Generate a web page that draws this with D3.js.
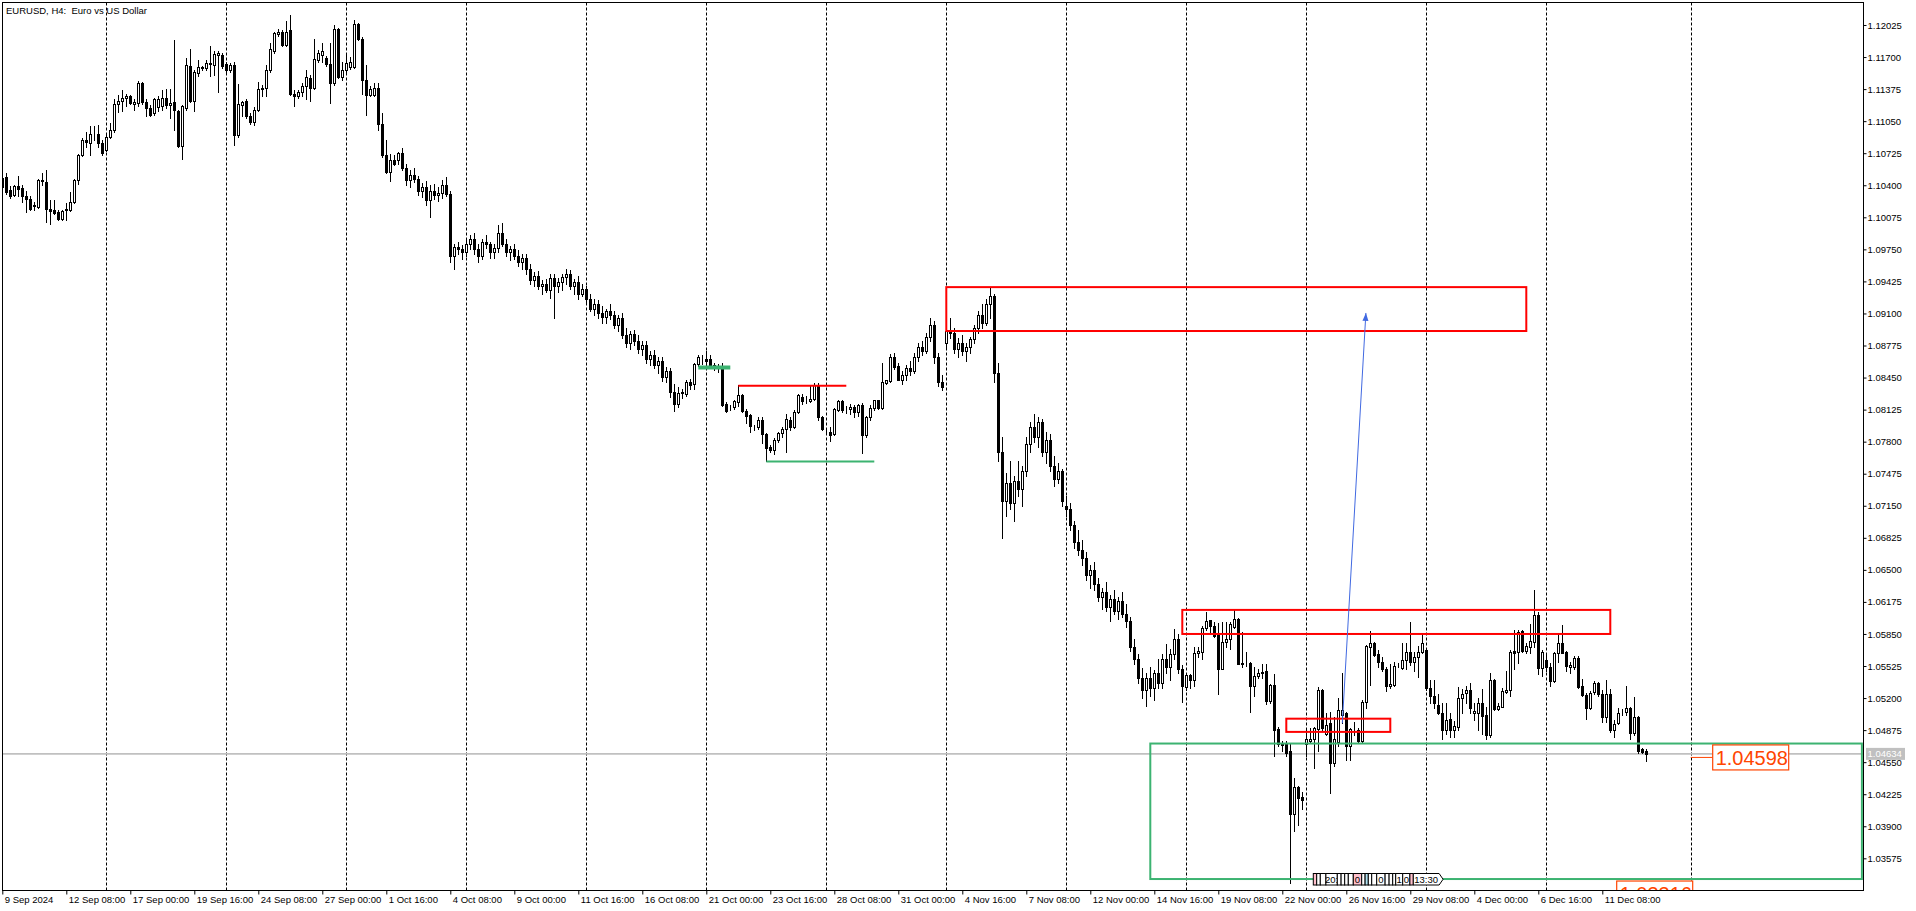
<!DOCTYPE html>
<html><head><meta charset="utf-8">
<script src="https://cdn.jsdelivr.net/npm/d3@7"></script>
<style>
html,body{margin:0;padding:0;background:#fff;overflow:hidden}
svg{display:block}
text{font-family:"Liberation Sans",Arial,sans-serif}
</style></head><body>
<svg id="c" width="1916" height="911"></svg>
<script>
const openP = [
1.1047,1.1048,1.1035,1.1030,1.1039,1.1037,1.1029,1.1026,1.1019,1.1018,
1.1045,1.1043,1.1016,1.1015,1.1013,1.1006,1.1015,1.1015,1.1023,1.1045,
1.1071,1.1086,1.1083,1.1092,1.1092,1.1083,1.1076,1.1089,1.1096,1.1122,
1.1125,1.1128,1.1130,1.1122,1.1123,1.1144,1.1124,1.1118,1.1113,1.1119,
1.1120,1.1128,1.1121,1.1124,1.1115,1.1080,1.1118,1.1161,1.1125,1.1154,
1.1159,1.1159,1.1163,1.1162,1.1172,1.1172,1.1163,1.1157,1.1162,1.1091,
1.1121,1.1125,1.1110,1.1104,1.1116,1.1138,1.1139,1.1157,1.1176,1.1193,
1.1195,1.1182,1.1197,1.1133,1.1130,1.1135,1.1141,1.1149,1.1139,1.1167,
1.1172,1.1169,1.1163,1.1144,1.1198,1.1150,1.1157,1.1160,1.1160,1.1204,
1.1188,1.1147,1.1132,1.1132,1.1139,1.1102,1.1071,1.1053,1.1066,1.1066,
1.1073,1.1058,1.1045,1.1050,1.1046,1.1034,1.1038,1.1025,1.1034,1.1030,
1.1032,1.1040,1.1031,1.0968,1.0977,1.0975,1.0972,1.0980,1.0986,1.0975,
1.0968,1.0982,1.0980,1.0972,1.0976,1.0992,1.0980,1.0972,1.0975,1.0968,
1.0962,1.0966,1.0955,1.0944,1.0948,1.0938,1.0940,1.0934,1.0946,1.0938,
1.0942,1.0947,1.0950,1.0938,1.0942,1.0930,1.0935,1.0925,1.0915,1.0920,
1.0910,1.0906,1.0912,1.0908,1.0898,1.0905,1.0888,1.0880,1.0889,1.0882,
1.0874,1.0878,1.0864,1.0868,1.0858,1.0862,1.0846,1.0852,1.0830,1.0818,
1.0829,1.0828,1.0840,1.0838,1.0859,1.0866,1.0864,1.0864,1.0858,1.0855,
1.0857,1.0818,1.0815,1.0815,1.0820,1.0827,1.0811,1.0807,1.0795,1.0795,
1.0802,1.0788,1.0775,1.0772,1.0782,1.0789,1.0793,1.0802,1.0795,1.0810,
1.0825,1.0821,1.0821,1.0823,1.0837,1.0805,1.0791,1.0790,1.0788,1.0812,
1.0821,1.0813,1.0813,1.0815,1.0810,1.0817,1.0787,1.0805,1.0814,1.0822,
1.0814,1.0839,1.0842,1.0866,1.0857,
1.0843,1.0848,1.0855,1.0852,1.0866,1.0876,1.0872,1.0886,1.0898,1.0866,
1.0840,1.0880,1.0892,1.0890,1.0874,1.0880,1.0872,1.0876,1.0884,1.0895,
1.0908,1.0900,1.0920,1.0928,1.0850,1.0770,1.0720,1.0738,1.0718,1.0740,
1.0732,1.0750,1.0778,1.0795,1.0785,1.0800,1.0770,1.0782,1.0755,1.0742,
1.0750,1.0715,1.0712,1.0695,1.0678,1.0670,1.0662,1.0645,1.0650,1.0636,
1.0622,1.0628,1.0612,1.0620,1.0608,1.0618,1.0605,1.0598,1.0572,1.0560,
1.0540,1.0528,1.0540,1.0530,1.0545,1.0535,1.0560,1.0552,1.0565,1.0580,
1.0549,1.0531,1.0543,1.0538,1.0566,1.0567,1.0591,1.0599,1.0593,1.0586,
1.0549,1.0577,1.0580,1.0592,1.0600,1.0555,1.0556,1.0556,1.0532,1.0542,
1.0546,1.0547,1.0517,1.0533,1.0489,1.0474,1.0473,1.0466,1.0402,1.0430,
1.0420,1.0473,1.0476,1.0479,1.0489,1.0528,1.0484,1.0495,1.0454,1.0475,
1.0503,1.0505,1.0471,1.0486,1.0488,1.0476,1.0516,1.0572,1.0576,1.0565,
1.0557,1.0549,1.0532,1.0533,1.0554,1.0550,1.0559,1.0567,1.0557,1.0562,
1.0567,1.0569,1.0530,1.0522,1.0513,1.0505,1.0488,1.0499,1.0488,1.0491,
1.0520,1.0525,1.0528,1.0505,1.0505,1.0515,1.0503,1.0483,1.0538,1.0509,
1.0511,1.0526,1.0528,1.0568,1.0567,1.0588,1.0568,1.0572,1.0577,1.0604,
1.0550,1.0559,1.0552,1.0537,1.0566,1.0576,1.0567,1.0551,1.0552,1.0561,
1.0532,1.0523,1.0510,1.0526,1.0535,1.0524,1.0501,1.0524,1.0488,1.0495,
1.0506,1.0506,1.0510,1.0485,1.0501,1.0468,1.0466];
const highP = [
1.1049,1.1052,1.1039,1.1040,1.1049,1.1040,1.1034,1.1029,1.1023,1.1046,
1.1052,1.1055,1.1025,1.1025,1.1015,1.1015,1.1022,1.1033,1.1046,1.1072,
1.1088,1.1094,1.1100,1.1100,1.1101,1.1086,1.1093,1.1103,1.1127,1.1132,
1.1137,1.1133,1.1132,1.1127,1.1146,1.1145,1.1127,1.1121,1.1128,1.1130,
1.1137,1.1138,1.1138,1.1187,1.1116,1.1121,1.1169,1.1178,1.1157,1.1167,
1.1161,1.1167,1.1181,1.1176,1.1176,1.1174,1.1165,1.1164,1.1165,1.1143,
1.1125,1.1127,1.1113,1.1119,1.1145,1.1142,1.1162,1.1184,1.1195,1.1198,
1.1197,1.1207,1.1213,1.1137,1.1137,1.1144,1.1157,1.1152,1.1188,1.1177,
1.1184,1.1171,1.1184,1.1202,1.1199,1.1165,1.1172,1.1170,1.1208,1.1205,
1.1190,1.1162,1.1141,1.1144,1.1144,1.1113,1.1086,1.1072,1.1071,1.1074,
1.1078,1.1062,1.1055,1.1058,1.1049,1.1042,1.1044,1.1040,1.1041,1.1038,
1.1045,1.1048,1.1034,1.0980,1.0982,1.0979,1.0985,1.0990,1.0992,1.0980,
1.0985,1.0990,1.0982,1.0980,1.1000,1.1002,1.0986,1.0978,1.0980,1.0974,
1.0970,1.0970,1.0960,1.0952,1.0953,1.0944,1.0945,1.0950,1.0950,1.0946,
1.0950,1.0955,1.0954,1.0945,1.0948,1.0940,1.0938,1.0930,1.0925,1.0924,
1.0918,1.0915,1.0920,1.0912,1.0908,1.0910,1.0895,1.0892,1.0893,1.0888,
1.0882,1.0882,1.0872,1.0873,1.0866,1.0866,1.0856,1.0855,1.0838,1.0835,
1.0833,1.0843,1.0844,1.0860,1.0868,1.0868,1.0872,1.0868,1.0860,1.0859,
1.0860,1.0820,1.0817,1.0822,1.0837,1.0828,1.0813,1.0808,1.0797,1.0805,
1.0805,1.0789,1.0777,1.0784,1.0790,1.0795,1.0808,1.0805,1.0812,1.0828,
1.0828,1.0826,1.0837,1.0839,1.0839,1.0806,1.0794,1.0795,1.0814,1.0822,
1.0822,1.0816,1.0818,1.0817,1.0818,1.0819,1.0806,1.0817,1.0822,1.0822,
1.0860,1.0843,1.0869,1.0870,1.0860,
1.0852,1.0858,1.0862,1.0870,1.0880,1.0882,1.0890,1.0905,1.0902,1.0870,
1.0848,1.0898,1.0905,1.0895,1.0885,1.0888,1.0880,1.0886,1.0898,1.0912,
1.0920,1.0925,1.0936,1.0930,1.0860,1.0785,1.0748,1.0760,1.0745,1.0760,
1.0755,1.0785,1.0800,1.0808,1.0805,1.0803,1.0790,1.0788,1.0765,1.0758,
1.0752,1.0725,1.0718,1.0700,1.0690,1.0680,1.0668,1.0655,1.0658,1.0642,
1.0632,1.0638,1.0625,1.0630,1.0622,1.0628,1.0615,1.0602,1.0580,1.0565,
1.0550,1.0545,1.0552,1.0548,1.0560,1.0565,1.0575,1.0570,1.0590,1.0585,
1.0554,1.0544,1.0544,1.0572,1.0572,1.0593,1.0607,1.0599,1.0597,1.0596,
1.0597,1.0597,1.0597,1.0609,1.0601,1.0587,1.0567,1.0557,1.0552,1.0549,
1.0555,1.0555,1.0534,1.0544,1.0491,1.0476,1.0476,1.0474,1.0439,1.0431,
1.0425,1.0488,1.0490,1.0491,1.0531,1.0529,1.0505,1.0506,1.0501,1.0520,
1.0545,1.0506,1.0490,1.0496,1.0490,1.0518,1.0574,1.0588,1.0577,1.0569,
1.0562,1.0552,1.0555,1.0557,1.0556,1.0576,1.0576,1.0597,1.0567,1.0573,
1.0585,1.0570,1.0538,1.0538,1.0524,1.0515,1.0515,1.0505,1.0497,1.0531,
1.0529,1.0532,1.0535,1.0515,1.0520,1.0529,1.0511,1.0545,1.0539,1.0515,
1.0530,1.0547,1.0569,1.0589,1.0589,1.0589,1.0576,1.0595,1.0630,1.0607,
1.0569,1.0566,1.0556,1.0567,1.0586,1.0594,1.0568,1.0557,1.0563,1.0563,
1.0539,1.0525,1.0527,1.0537,1.0536,1.0528,1.0538,1.0529,1.0498,1.0510,
1.0509,1.0532,1.0511,1.0521,1.0502,1.0469,1.0468];
const lowP = [
1.1034,1.1031,1.1027,1.1029,1.1029,1.1023,1.1013,1.1015,1.1015,1.1017,
1.1040,1.1003,1.1001,1.1011,1.1005,1.1005,1.1005,1.1014,1.1022,1.1041,
1.1070,1.1079,1.1071,1.1086,1.1079,1.1071,1.1075,1.1088,1.1094,1.1114,
1.1115,1.1120,1.1122,1.1116,1.1120,1.1122,1.1110,1.1110,1.1111,1.1115,
1.1116,1.1118,1.1108,1.1096,1.1079,1.1067,1.1116,1.1124,1.1115,1.1151,
1.1157,1.1157,1.1151,1.1152,1.1135,1.1159,1.1155,1.1155,1.1081,1.1089,
1.1110,1.1108,1.1102,1.1101,1.1115,1.1130,1.1130,1.1155,1.1174,1.1191,
1.1181,1.1181,1.1132,1.1120,1.1128,1.1130,1.1127,1.1125,1.1138,1.1165,
1.1165,1.1161,1.1123,1.1142,1.1149,1.1147,1.1155,1.1158,1.1159,1.1187,
1.1133,1.1111,1.1130,1.1131,1.1096,1.1069,1.1052,1.1044,1.1061,1.1062,
1.1055,1.1040,1.1038,1.1043,1.1030,1.1028,1.1020,1.1008,1.1026,1.1024,
1.1027,1.1029,1.0962,1.0955,1.0970,1.0965,1.0968,1.0975,1.0970,1.0962,
1.0965,1.0976,1.0966,1.0966,1.0972,1.0978,1.0968,1.0964,1.0965,1.0958,
1.0955,1.0950,1.0940,1.0938,1.0935,1.0930,1.0932,1.0926,1.0905,1.0932,
1.0934,1.0940,1.0935,1.0930,1.0925,1.0928,1.0920,1.0912,1.0908,1.0905,
1.0900,1.0900,1.0904,1.0895,1.0892,1.0885,1.0876,1.0874,1.0878,1.0870,
1.0868,1.0860,1.0858,1.0855,1.0850,1.0842,1.0840,1.0825,1.0811,1.0815,
1.0824,1.0826,1.0833,1.0833,1.0857,1.0859,1.0857,1.0856,1.0853,1.0851,
1.0816,1.0810,1.0812,1.0813,1.0816,1.0810,1.0799,1.0790,1.0792,1.0793,
1.0779,1.0760,1.0770,1.0767,1.0780,1.0785,1.0770,1.0792,1.0794,1.0809,
1.0818,1.0819,1.0820,1.0822,1.0802,1.0792,1.0789,1.0781,1.0787,1.0811,
1.0810,1.0809,1.0808,1.0805,1.0806,1.0768,1.0785,1.0802,1.0812,1.0813,
1.0813,1.0838,1.0841,1.0854,1.0843,
1.0838,1.0843,1.0848,1.0850,1.0862,1.0868,1.0870,1.0882,1.0860,1.0836,
1.0832,1.0875,1.0885,1.0870,1.0866,1.0868,1.0862,1.0870,1.0880,1.0890,
1.0895,1.0898,1.0905,1.0840,1.0760,1.0682,1.0705,1.0712,1.0700,1.0725,
1.0715,1.0745,1.0770,1.0780,1.0775,1.0765,1.0758,1.0750,1.0735,1.0738,
1.0715,1.0705,1.0690,1.0672,1.0665,1.0655,1.0640,1.0632,1.0630,1.0618,
1.0610,1.0608,1.0598,1.0605,1.0600,1.0602,1.0592,1.0568,1.0555,1.0535,
1.0520,1.0512,1.0522,1.0518,1.0530,1.0530,1.0545,1.0538,1.0560,1.0545,
1.0516,1.0528,1.0530,1.0532,1.0562,1.0560,1.0589,1.0585,1.0582,1.0524,
1.0549,1.0572,1.0570,1.0591,1.0555,1.0552,1.0553,1.0506,1.0522,1.0540,
1.0540,1.0514,1.0515,1.0461,1.0471,1.0466,1.0461,1.0332,1.0385,1.0391,
1.0408,1.0461,1.0474,1.0449,1.0466,1.0488,1.0483,1.0424,1.0451,1.0471,
1.0495,1.0457,1.0457,1.0483,1.0475,1.0475,1.0510,1.0533,1.0563,1.0552,
1.0547,1.0527,1.0530,1.0532,1.0551,1.0549,1.0549,1.0554,1.0547,1.0541,
1.0566,1.0528,1.0515,1.0510,1.0504,1.0479,1.0484,1.0481,1.0481,1.0488,
1.0505,1.0515,1.0505,1.0498,1.0488,1.0484,1.0478,1.0481,1.0508,1.0508,
1.0511,1.0525,1.0522,1.0549,1.0556,1.0567,1.0566,1.0566,1.0572,1.0544,
1.0542,1.0547,1.0532,1.0536,1.0557,1.0566,1.0547,1.0545,1.0549,1.0530,
1.0522,1.0499,1.0509,1.0524,1.0522,1.0496,1.0496,1.0486,1.0481,1.0494,
1.0503,1.0503,1.0478,1.0483,1.0464,1.0464,1.0456];
const closeP = [
1.1038,1.1033,1.1029,1.1039,1.1036,1.1029,1.1026,1.1016,1.1020,1.1045,
1.1044,1.1016,1.1014,1.1012,1.1006,1.1014,1.1016,1.1023,1.1045,1.1071,
1.1086,1.1084,1.1092,1.1092,1.1083,1.1073,1.1089,1.1096,1.1122,1.1125,
1.1128,1.1131,1.1123,1.1124,1.1144,1.1124,1.1118,1.1111,1.1127,1.1127,
1.1128,1.1121,1.1123,1.1116,1.1080,1.1120,1.1162,1.1125,1.1155,1.1160,
1.1160,1.1164,1.1164,1.1173,1.1174,1.1161,1.1157,1.1162,1.1091,1.1122,
1.1124,1.1110,1.1104,1.1116,1.1138,1.1139,1.1157,1.1178,1.1194,1.1195,
1.1182,1.1195,1.1133,1.1130,1.1135,1.1141,1.1150,1.1139,1.1168,1.1174,
1.1176,1.1163,1.1144,1.1198,1.1150,1.1157,1.1164,1.1165,1.1204,1.1188,
1.1147,1.1132,1.1138,1.1139,1.1102,1.1071,1.1053,1.1066,1.1062,1.1073,
1.1058,1.1045,1.1050,1.1046,1.1034,1.1038,1.1025,1.1034,1.1030,1.1032,
1.1040,1.1031,1.0968,1.0977,1.0975,1.0972,1.0980,1.0986,1.0975,1.0968,
1.0982,1.0980,1.0972,1.0976,1.0992,1.0980,1.0972,1.0975,1.0968,1.0962,
1.0966,1.0955,1.0944,1.0948,1.0938,1.0940,1.0934,1.0946,1.0938,1.0942,
1.0947,1.0950,1.0938,1.0942,1.0930,1.0935,1.0925,1.0915,1.0920,1.0910,
1.0906,1.0912,1.0908,1.0898,1.0905,1.0888,1.0880,1.0889,1.0882,1.0874,
1.0878,1.0864,1.0868,1.0858,1.0862,1.0846,1.0852,1.0830,1.0818,1.0829,
1.0830,1.0840,1.0837,1.0859,1.0866,1.0866,1.0862,1.0857,1.0855,1.0857,
1.0817,1.0811,1.0815,1.0821,1.0827,1.0811,1.0806,1.0796,1.0795,1.0802,
1.0788,1.0774,1.0772,1.0782,1.0789,1.0793,1.0803,1.0795,1.0810,1.0827,
1.0821,1.0821,1.0823,1.0837,1.0805,1.0793,1.0791,1.0787,1.0813,1.0821,
1.0812,1.0813,1.0815,1.0810,1.0817,1.0787,1.0805,1.0814,1.0822,1.0814,
1.0840,1.0843,1.0866,1.0856,1.0843,
1.0848,1.0855,1.0852,1.0866,1.0876,1.0872,1.0886,1.0898,1.0866,1.0840,
1.0835,1.0892,1.0890,1.0874,1.0880,1.0872,1.0876,1.0884,1.0895,1.0908,
1.0900,1.0920,1.0928,1.0850,1.0770,1.0720,1.0738,1.0718,1.0740,1.0732,
1.0750,1.0778,1.0795,1.0785,1.0800,1.0770,1.0782,1.0755,1.0742,1.0750,
1.0720,1.0712,1.0695,1.0678,1.0670,1.0662,1.0645,1.0650,1.0636,1.0622,
1.0628,1.0612,1.0620,1.0608,1.0618,1.0605,1.0598,1.0572,1.0560,1.0540,
1.0528,1.0540,1.0530,1.0545,1.0535,1.0560,1.0552,1.0565,1.0580,1.0549,
1.0532,1.0543,1.0538,1.0566,1.0568,1.0591,1.0598,1.0593,1.0583,1.0549,
1.0577,1.0580,1.0595,1.0600,1.0555,1.0556,1.0556,1.0532,1.0542,1.0545,
1.0545,1.0517,1.0533,1.0488,1.0473,1.0472,1.0464,1.0402,1.0430,1.0419,
1.0417,1.0478,1.0479,1.0490,1.0528,1.0490,1.0493,1.0454,1.0478,1.0508,
1.0508,1.0471,1.0489,1.0486,1.0476,1.0516,1.0573,1.0576,1.0564,1.0557,
1.0549,1.0532,1.0534,1.0553,1.0554,1.0559,1.0567,1.0557,1.0562,1.0567,
1.0576,1.0530,1.0522,1.0515,1.0505,1.0488,1.0498,1.0488,1.0492,1.0520,
1.0524,1.0528,1.0510,1.0507,1.0515,1.0502,1.0483,1.0538,1.0509,1.0512,
1.0527,1.0528,1.0567,1.0566,1.0587,1.0568,1.0573,1.0578,1.0604,1.0550,
1.0567,1.0551,1.0537,1.0566,1.0576,1.0566,1.0553,1.0554,1.0561,1.0531,
1.0523,1.0510,1.0525,1.0535,1.0524,1.0501,1.0524,1.0488,1.0494,1.0505,
1.0506,1.0510,1.0485,1.0501,1.0466,1.0465,1.04634];

const xTickLabels = ["9 Sep 2024","12 Sep 08:00","17 Sep 00:00","19 Sep 16:00","24 Sep 08:00","27 Sep 00:00","1 Oct 16:00","4 Oct 08:00","9 Oct 00:00","11 Oct 16:00","16 Oct 08:00","21 Oct 00:00","23 Oct 16:00","28 Oct 08:00","31 Oct 00:00","4 Nov 16:00","7 Nov 08:00","12 Nov 00:00","14 Nov 16:00","19 Nov 08:00","22 Nov 00:00","26 Nov 16:00","29 Nov 08:00","4 Dec 00:00","6 Dec 16:00","11 Dec 08:00"];
const xTickBars = [0,16,32,48,64,80,96,112,128,144,160,176,192,208,224,240,256,272,288,304,320,336,352,368,384,400];
const yTicks = [1.12025,1.11700,1.11375,1.11050,1.10725,1.10400,1.10075,1.09750,1.09425,1.09100,1.08775,1.08450,1.08125,1.07800,1.07475,1.07150,1.06825,1.06500,1.06175,1.05850,1.05525,1.05200,1.04875,1.04550,1.04225,1.03900,1.03575];
const weekGridBars = [26,56,86,116,146,176,206,236,266,296,326,356,386,422.1];
const bidPrice = 1.04634;
const redRects = [[236,381,1.09367,1.08922],[295,402,1.06094,1.05850],[321,347,1.04991,1.04857]];
const greenRect = [287,464.9,1.04739,1.03365];
const redLine = [184,211,1.08368];
const greenLine = [191,218,1.07599];
const greenThick = [174,182,1.08551];
const blueArrow = [335,1.04945,340.9,1.09105];
const priceLabels = [{bar:422.1,price:1.04598,text:"1.04598"},{bar:422.6,price:1.03218,text:"1.03316"}];
const eventEdges = [327.75,328.6,329.5,330.9,333.75,334.7,335.6,336.5,337.75,339.85,340.7,341.5,342.35,343.6,345.7,346.7,347.6,348.35,350.1,351.9,352.75,360.2];
const eventLabels = ["","","","20:","","","","","0","","","","","0","","","","1","0","","13:30"];
const eventKinds = ["p","w","w","w","w","w","w","w","p","w","b","w","w","w","w","w","w","w","w","p","w"];

const svg = d3.select("#c");
const L=2.5,T=2.5,R=1863.5,B=890.5;
const x = d3.scaleLinear().domain([0,465.25]).range([2.3,1863.3]);
const y = d3.scaleLinear().domain([1.032538,1.122582]).range([890,2]);
const sx = i => Math.round(x(i))+0.5;
const sy = p => Math.round(y(p))+0.5;

svg.append("defs").append("clipPath").attr("id","clip").append("rect")
  .attr("x",L).attr("y",T).attr("width",R-L).attr("height",B-T);
const plot = svg.append("g").attr("clip-path","url(#clip)");

plot.selectAll("line.grid").data(weekGridBars).join("line")
  .attr("x1",d=>sx(d)).attr("x2",d=>sx(d)).attr("y1",T).attr("y2",B)
  .attr("stroke","#000").attr("stroke-width",1).attr("stroke-dasharray","3,2");

plot.append("line").attr("x1",L).attr("x2",R).attr("y1",y(bidPrice)).attr("y2",y(bidPrice))
  .attr("stroke","#c0c0c0").attr("stroke-width",1.6);

const idx = d3.range(openP.length);
const cg = plot.append("g");
cg.selectAll("line.w").data(idx).join("line")
  .attr("x1",i=>sx(i)).attr("x2",i=>sx(i))
  .attr("y1",i=>Math.round(y(highP[i]))).attr("y2",i=>Math.round(y(lowP[i]))+1)
  .attr("stroke","#000").attr("stroke-width",1);
cg.selectAll("rect.b").data(idx).join("rect")
  .attr("x",i=>sx(i)-1).attr("width",2)
  .attr("y",i=>sy(Math.max(openP[i],closeP[i])))
  .attr("height",i=>Math.max(0,sy(Math.min(openP[i],closeP[i]))-sy(Math.max(openP[i],closeP[i]))))
  .attr("fill",i=>closeP[i]>=openP[i]?"#fff":"#000")
  .attr("stroke","#000").attr("stroke-width",1);

const ov = plot.append("g");
ov.selectAll("rect.rr").data(redRects).join("rect")
  .attr("x",d=>x(d[0])).attr("y",d=>y(d[2])).attr("width",d=>x(d[1])-x(d[0])).attr("height",d=>y(d[3])-y(d[2]))
  .attr("fill","none").attr("stroke","#ff0000").attr("stroke-width",2);
ov.append("rect").attr("x",x(greenRect[0])).attr("y",y(greenRect[2]))
  .attr("width",x(greenRect[1])-x(greenRect[0])).attr("height",y(greenRect[3])-y(greenRect[2]))
  .attr("fill","none").attr("stroke","#3cb371").attr("stroke-width",2);
ov.append("line").attr("x1",x(redLine[0])).attr("x2",x(redLine[1])).attr("y1",y(redLine[2])).attr("y2",y(redLine[2]))
  .attr("stroke","#ff0000").attr("stroke-width",2);
ov.append("line").attr("x1",x(greenLine[0])).attr("x2",x(greenLine[1])).attr("y1",y(greenLine[2])).attr("y2",y(greenLine[2]))
  .attr("stroke","#3cb371").attr("stroke-width",2);
ov.append("line").attr("x1",x(greenThick[0])).attr("x2",x(greenThick[1])).attr("y1",y(greenThick[2])).attr("y2",y(greenThick[2]))
  .attr("stroke","#3cb371").attr("stroke-width",4);
{
  const x1=x(blueArrow[0]),y1=y(blueArrow[1]),x2=x(blueArrow[2]),y2=y(blueArrow[3]);
  const ang=Math.atan2(y2-y1,x2-x1);
  ov.append("line").attr("x1",x1).attr("y1",y1).attr("x2",x2).attr("y2",y2).attr("stroke","#4169e1").attr("stroke-width",1);
  const hl=8,hw=3;
  const bx=x2-hl*Math.cos(ang),by=y2-hl*Math.sin(ang);
  ov.append("path").attr("d",`M${x2},${y2}L${bx+hw*Math.sin(ang)},${by-hw*Math.cos(ang)}L${bx-hw*Math.sin(ang)},${by+hw*Math.cos(ang)}Z`).attr("fill","#4169e1");
}
{
  const p=priceLabels[0], ax=x(p.bar), py=y(p.price);
  ov.append("line").attr("x1",ax).attr("x2",ax+22).attr("y1",py).attr("y2",py).attr("stroke","#ff4500").attr("stroke-width",1);
  ov.append("rect").attr("x",ax+22).attr("y",py-12.5).attr("width",76).attr("height",25).attr("fill","#fff").attr("stroke","#ff4500").attr("stroke-width",1.2);
  ov.append("text").attr("x",ax+25).attr("y",py+7.3).attr("font-size",20).attr("fill","#ff4500").text(p.text);
  const q=priceLabels[1], qx=x(q.bar), qy=y(q.price);
  ov.append("rect").attr("x",qx-76).attr("y",qy-12.5).attr("width",76).attr("height",25).attr("fill","#fff").attr("stroke","#ff4500").attr("stroke-width",1.2);
  ov.append("text").attr("x",qx-73).attr("y",qy+7.3).attr("font-size",20).attr("fill","#ff4500").text(q.text);
}
// event flags along the bottom of the chart
{
  const eg = plot.append("g");
  const fills = {p:"#ffc0cb",b:"#b0e0f0",w:"#fff"};
  const ey0 = 873.5, eh = 11.5;
  eventLabels.forEach((t,i)=>{
    const x0 = x(eventEdges[i]), x1 = x(eventEdges[i+1]);
    if (i === eventLabels.length-1) {
      eg.append("path").attr("d",`M${x0},${ey0}H${x1-4}L${x1},${ey0+eh/2}L${x1-4},${ey0+eh}H${x0}Z`)
        .attr("fill",fills[eventKinds[i]]).attr("stroke","#000").attr("stroke-width",1);
    } else {
      eg.append("rect").attr("x",x0).attr("y",ey0).attr("width",x1-x0).attr("height",eh)
        .attr("fill",fills[eventKinds[i]]).attr("stroke","#000").attr("stroke-width",1);
    }
    if (t) eg.append("text").attr("x",(x0+x1)/2-(i===eventLabels.length-1?2:0)).attr("y",ey0+eh-2.3)
      .attr("text-anchor","middle").attr("font-size",9.5).attr("fill","#000").text(t);
  });
}

svg.append("rect").attr("x",L).attr("y",T).attr("width",R-L).attr("height",B-T).attr("fill","none").attr("stroke","#000").attr("stroke-width",1);

svg.append("text").attr("x",6).attr("y",13.5).attr("font-size",9.5).attr("fill","#000").style("white-space","pre").text("EURUSD, H4:  Euro vs US Dollar");

const ya = svg.append("g").attr("transform",`translate(${R},0)`)
  .call(d3.axisRight(y).tickValues(yTicks).tickFormat(d3.format(".5f")).tickSize(3).tickPadding(1));
ya.select(".domain").remove();
ya.selectAll("text").attr("font-size",9.5).attr("font-family","Liberation Sans").attr("fill","#000");
ya.selectAll("line").attr("stroke","#000");

const xa = svg.append("g").attr("transform",`translate(0,${B})`)
  .call(d3.axisBottom(x).tickValues(xTickBars).tickFormat((d,i)=>xTickLabels[i]).tickSize(4));
xa.select(".domain").remove();
xa.selectAll(".tick line").attr("stroke","#000");
xa.selectAll("text").attr("text-anchor","start").attr("x",2).attr("y",12).attr("dy",null)
  .attr("font-size",9.5).attr("font-family","Liberation Sans").attr("fill","#000");

svg.append("rect").attr("x",1866).attr("y",y(bidPrice)-6).attr("width",39).attr("height",12).attr("fill","#c0c0c0");
svg.append("text").attr("x",1867.5).attr("y",y(bidPrice)+3.5).attr("font-size",9.5).attr("fill","#fff").text(d3.format(".5f")(bidPrice));
</script></body></html>
